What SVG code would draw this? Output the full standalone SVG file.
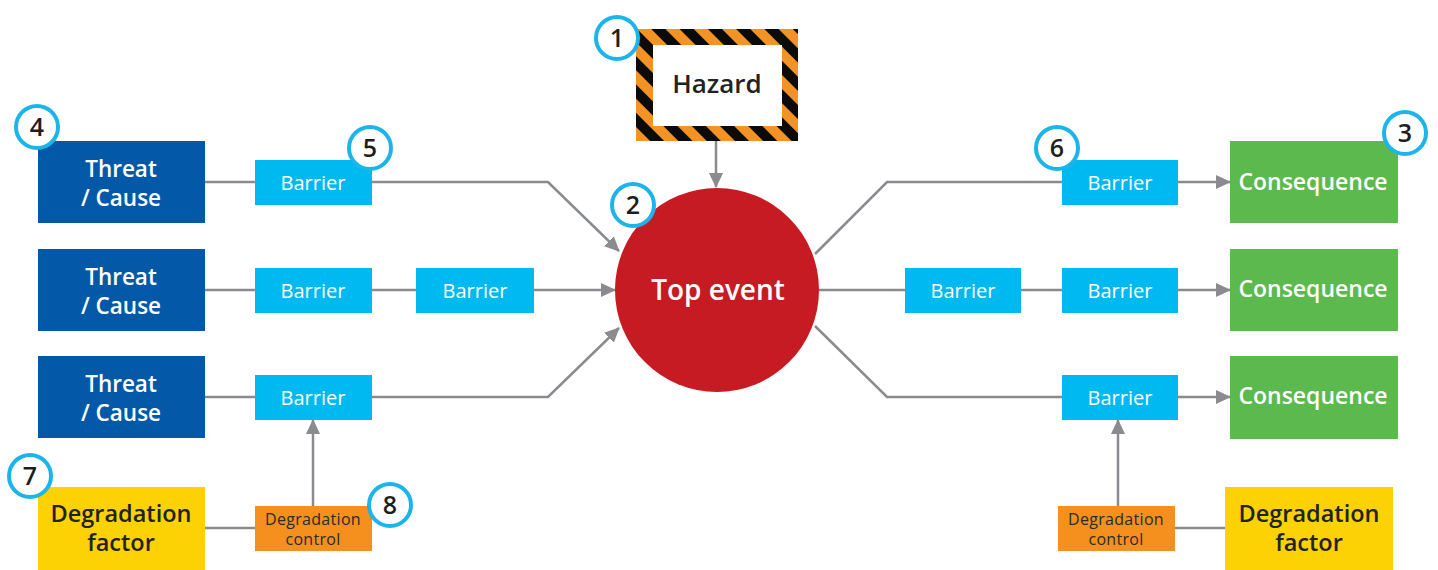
<svg xmlns="http://www.w3.org/2000/svg" width="1438" height="570" viewBox="0 0 1438 570">
  <style>
    .threat { fill: #0359a8; }
    .barrier { fill: #00b9f0; }
    .conseq { fill: #5cb94d; }
    .degf { fill: #fdd205; }
    .degc { fill: #f5901f; }
    .t { font-family: "Open Sans", Lato, sans-serif; text-anchor: middle; }
    .tw { fill: #ffffff; }
    .tb { fill: #ffffff; font-weight: 600; font-size: 22.5px; }
    .tc { fill: #ffffff; font-weight: 600; font-size: 23px; }
    .tbar { fill: #ffffff; font-size: 20px; }
    .tdf { fill: #222222; font-weight: 600; font-size: 23.5px; }
    .tdc { fill: #2b2b2b; font-size: 16px; letter-spacing: 0.3px; }
    .link { fill: none; stroke: #8a8b8e; stroke-width: 2.5; }
    .badge circle { fill: #ffffff; stroke: #1bb5ea; stroke-width: 4; }
    .badge text { font-family: "Open Sans", Lato, sans-serif; font-weight: 600; font-size: 25px; fill: #1e1e1e; text-anchor: middle; }
  </style>
  <defs>
    <marker id="arrow" markerUnits="userSpaceOnUse" markerWidth="16" markerHeight="16" viewBox="0 0 16 16" refX="14" refY="8" orient="auto">
      <path d="M0,1 L15,8 L0,15 Z" fill="#8a8b8e"/>
    </marker>
    <pattern id="hazardStripes" patternUnits="userSpaceOnUse" width="20" height="20" patternTransform="rotate(-45)">
      <rect width="20" height="20" fill="#f39325"/>
      <rect width="10" height="20" fill="#0b0b0b"/>
    </pattern>
  </defs>

  <!-- connectors -->
  <g id="connectors">
    <!-- hazard to top event -->
    <line class="link" x1="716" y1="141" x2="716" y2="187" marker-end="url(#arrow)"/>
    <!-- threat rows -->
    <line class="link" x1="205" y1="182" x2="255" y2="182"/>
    <polyline class="link" points="372,182 548,182 619,251" marker-end="url(#arrow)"/>
    <line class="link" x1="205" y1="290" x2="255" y2="290"/>
    <line class="link" x1="372" y1="290" x2="416" y2="290"/>
    <line class="link" x1="534" y1="290" x2="615" y2="290" marker-end="url(#arrow)"/>
    <line class="link" x1="205" y1="397" x2="255" y2="397"/>
    <polyline class="link" points="372,397 548,397 619,328" marker-end="url(#arrow)"/>
    <!-- consequence rows -->
    <polyline class="link" points="815,254 887,182 1062,182"/>
    <line class="link" x1="1178" y1="182" x2="1230" y2="182" marker-end="url(#arrow)"/>
    <line class="link" x1="819" y1="290" x2="905" y2="290"/>
    <line class="link" x1="1021" y1="290" x2="1062" y2="290"/>
    <line class="link" x1="1178" y1="290" x2="1230" y2="290" marker-end="url(#arrow)"/>
    <polyline class="link" points="815,326 887,397 1062,397"/>
    <line class="link" x1="1178" y1="397" x2="1230" y2="397" marker-end="url(#arrow)"/>
    <!-- degradation links -->
    <line class="link" x1="205" y1="528" x2="255" y2="528"/>
    <line class="link" x1="313" y1="506" x2="313" y2="420" marker-end="url(#arrow)"/>
    <line class="link" x1="1175" y1="528" x2="1225" y2="528"/>
    <line class="link" x1="1118" y1="506" x2="1118" y2="420" marker-end="url(#arrow)"/>
  </g>

  <!-- hazard -->
  <g id="hazard">
    <rect x="636" y="29" width="162" height="112" fill="url(#hazardStripes)"/>
    <rect x="653" y="45" width="129" height="81" fill="#ffffff"/>
    <text class="t" x="717" y="93" font-size="26" font-weight="600" fill="#222222">Hazard</text>
  </g>

  <!-- top event -->
  <g id="top-event">
    <circle cx="717" cy="290" r="102" fill="#c71b23"/>
    <text class="t tw" x="718" y="300" font-size="28" font-weight="600">Top event</text>
  </g>

  <!-- threats -->
  <g id="threat-1">
    <rect class="threat" x="38" y="141" width="167" height="82"/>
    <text class="t tb" x="121" y="177">Threat</text>
    <text class="t tb" x="121" y="206">/ Cause</text>
  </g>
  <g id="threat-2">
    <rect class="threat" x="38" y="249" width="167" height="82"/>
    <text class="t tb" x="121" y="285">Threat</text>
    <text class="t tb" x="121" y="314">/ Cause</text>
  </g>
  <g id="threat-3">
    <rect class="threat" x="38" y="356" width="167" height="82"/>
    <text class="t tb" x="121" y="392">Threat</text>
    <text class="t tb" x="121" y="421">/ Cause</text>
  </g>

  <!-- left barriers -->
  <g id="barrier-l1">
    <rect class="barrier" x="255" y="160" width="117" height="45"/>
    <text class="t tbar" x="313" y="190">Barrier</text>
  </g>
  <g id="barrier-l2a">
    <rect class="barrier" x="255" y="268" width="117" height="45"/>
    <text class="t tbar" x="313" y="298">Barrier</text>
  </g>
  <g id="barrier-l2b">
    <rect class="barrier" x="416" y="268" width="118" height="45"/>
    <text class="t tbar" x="475" y="298">Barrier</text>
  </g>
  <g id="barrier-l3">
    <rect class="barrier" x="255" y="375" width="117" height="45"/>
    <text class="t tbar" x="313" y="405">Barrier</text>
  </g>

  <!-- right barriers -->
  <g id="barrier-r1">
    <rect class="barrier" x="1062" y="160" width="116" height="45"/>
    <text class="t tbar" x="1120" y="190">Barrier</text>
  </g>
  <g id="barrier-r2a">
    <rect class="barrier" x="905" y="268" width="116" height="45"/>
    <text class="t tbar" x="963" y="298">Barrier</text>
  </g>
  <g id="barrier-r2b">
    <rect class="barrier" x="1062" y="268" width="116" height="45"/>
    <text class="t tbar" x="1120" y="298">Barrier</text>
  </g>
  <g id="barrier-r3">
    <rect class="barrier" x="1062" y="375" width="116" height="45"/>
    <text class="t tbar" x="1120" y="405">Barrier</text>
  </g>

  <!-- consequences -->
  <g id="consequence-1">
    <rect class="conseq" x="1230" y="141" width="168" height="82"/>
    <text class="t tc" x="1313" y="190">Consequence</text>
  </g>
  <g id="consequence-2">
    <rect class="conseq" x="1230" y="249" width="168" height="82"/>
    <text class="t tc" x="1313" y="297">Consequence</text>
  </g>
  <g id="consequence-3">
    <rect class="conseq" x="1230" y="356" width="168" height="83"/>
    <text class="t tc" x="1313" y="404">Consequence</text>
  </g>

  <!-- degradation -->
  <g id="degradation-factor-l">
    <rect class="degf" x="38" y="487" width="167" height="83"/>
    <text class="t tdf" x="121" y="522">Degradation</text>
    <text class="t tdf" x="121" y="551">factor</text>
  </g>
  <g id="degradation-control-l">
    <rect class="degc" x="255" y="506" width="117" height="45"/>
    <text class="t tdc" x="313" y="525">Degradation</text>
    <text class="t tdc" x="313" y="545">control</text>
  </g>
  <g id="degradation-control-r">
    <rect class="degc" x="1058" y="506" width="117" height="45"/>
    <text class="t tdc" x="1116" y="525">Degradation</text>
    <text class="t tdc" x="1116" y="545">control</text>
  </g>
  <g id="degradation-factor-r">
    <rect class="degf" x="1225" y="487" width="168" height="83"/>
    <text class="t tdf" x="1309" y="522">Degradation</text>
    <text class="t tdf" x="1309" y="551">factor</text>
  </g>

  <!-- numbered badges -->
  <g id="badge-1" class="badge"><circle cx="617" cy="38" r="21"/><text x="617" y="47">1</text></g>
  <g id="badge-2" class="badge"><circle cx="633" cy="205" r="21"/><text x="633" y="214">2</text></g>
  <g id="badge-3" class="badge"><circle cx="1405" cy="133" r="21"/><text x="1405" y="142">3</text></g>
  <g id="badge-4" class="badge"><circle cx="37" cy="127" r="21"/><text x="37" y="136">4</text></g>
  <g id="badge-5" class="badge"><circle cx="370" cy="148" r="21"/><text x="370" y="157">5</text></g>
  <g id="badge-6" class="badge"><circle cx="1057" cy="148" r="21"/><text x="1057" y="157">6</text></g>
  <g id="badge-7" class="badge"><circle cx="30" cy="476" r="21"/><text x="30" y="485">7</text></g>
  <g id="badge-8" class="badge"><circle cx="390" cy="505" r="21"/><text x="390" y="514">8</text></g>
</svg>
